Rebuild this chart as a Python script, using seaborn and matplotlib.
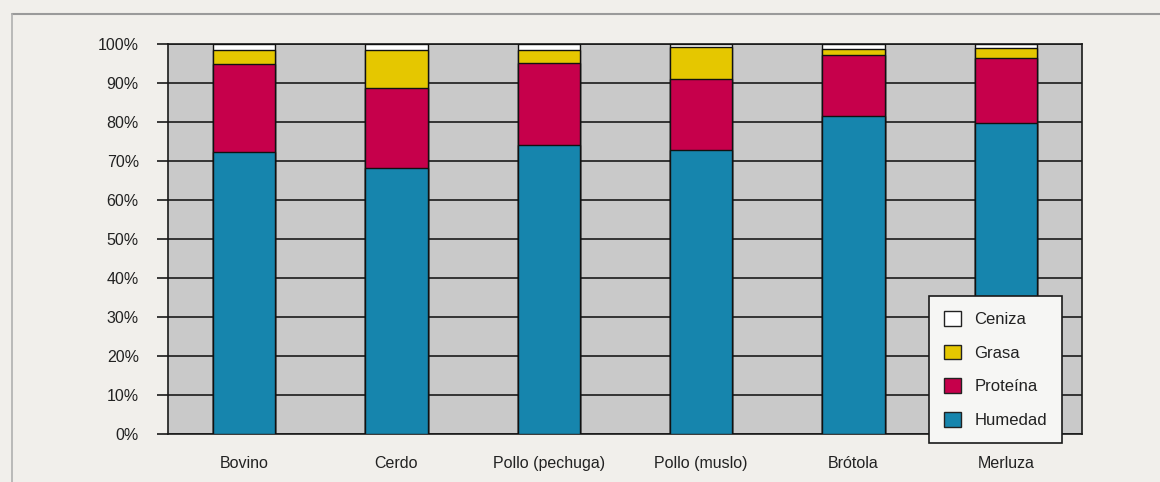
import matplotlib
matplotlib.use("Agg")
import matplotlib.pyplot as plt
from matplotlib.lines import Line2D
from matplotlib.patches import Patch
import numpy as np
import pandas as pd
import seaborn as sns

# Composición centesimal de carnes y pescados (% en peso)
categorias = ["Bovino", "Cerdo", "Pollo (pechuga)", "Pollo (muslo)", "Brótola", "Merluza"]
humedad = [72.3, 68.2, 74.2, 72.8, 81.6, 79.8]
proteina = [22.6, 20.6, 21.0, 18.2, 15.6, 16.6]
grasa = [3.5, 9.7, 3.3, 8.2, 1.6, 2.6]
ceniza = [1.6, 1.5, 1.5, 0.8, 1.2, 1.0]

componentes = ["Ceniza", "Grasa", "Proteína", "Humedad"]
colores = {"Humedad": "#1685ad", "Proteína": "#c6004b",
           "Grasa": "#e5c700", "Ceniza": "#ffffff"}

df = pd.DataFrame({"categoria": categorias, "Humedad": humedad,
                   "Proteína": proteina, "Grasa": grasa, "Ceniza": ceniza})
# Acumulados para apilar las barras (de abajo hacia arriba)
df["acum_Humedad"] = df["Humedad"]
df["acum_Proteína"] = df["acum_Humedad"] + df["Proteína"]
df["acum_Grasa"] = df["acum_Proteína"] + df["Grasa"]
df["acum_Ceniza"] = df["acum_Grasa"] + df["Ceniza"]

sns.set_theme(style="white")
plt.rcParams["font.family"] = ["Liberation Sans", "DejaVu Sans"]

fondo = "#f1efeb"
fig = plt.figure(figsize=(11.6, 4.82), dpi=100, facecolor=fondo)
ax = fig.add_axes([0.1448, 0.0996, 0.9328 - 0.1448, 0.9087 - 0.0996])
ax.set_facecolor("#c9c9c9")

# Barras apiladas: se dibuja primero el acumulado mayor
for comp in componentes:
    sns.barplot(data=df, x="categoria", y=f"acum_{comp}", color=colores[comp],
                width=0.41, edgecolor="#111111", linewidth=1.0,
                saturation=1, ax=ax, zorder=3)

ax.set_ylim(0, 100)
ax.set_yticks(np.arange(0, 101, 10))
ax.set_yticklabels([f"{v}%" for v in range(0, 101, 10)])
ax.yaxis.grid(True, color="#1a1a1a", linewidth=1.2)
ax.set_axisbelow(True)
ax.set_xlabel("")
ax.set_ylabel("")

for sp in ax.spines.values():
    sp.set_visible(True)
    sp.set_color("#1a1a1a")
    sp.set_linewidth(1.2)

ax.tick_params(axis="y", length=8, width=1.2, color="#1a1a1a", pad=13,
               labelsize=11.5, labelcolor="#222222", left=True)
ax.tick_params(axis="x", length=0, pad=16, labelsize=11.5, labelcolor="#222222")

# Leyenda
handles = [Patch(facecolor=colores[c], edgecolor="#222222", linewidth=1.0, label=c)
           for c in componentes]
leg = fig.legend(handles=handles, loc="lower right",
                 bbox_to_anchor=(0.9155, 0.0809), frameon=True, fancybox=False,
                 fontsize=12, handlelength=1.0, handleheight=1.0,
                 labelspacing=1.05, handletextpad=0.8, borderpad=0.9,
                 borderaxespad=0)
leg.get_frame().set_facecolor("#f6f6f4")
leg.get_frame().set_edgecolor("#1a1a1a")
leg.get_frame().set_linewidth(1.2)
leg.get_frame().set_alpha(1)
for t in leg.get_texts():
    t.set_color("#222222")

# Filetes del recuadro de la página
fig.add_artist(Line2D([0.0103, 1.0], [0.971, 0.971], transform=fig.transFigure,
                      color="#9a9a9a", linewidth=1.5))
fig.add_artist(Line2D([0.0103, 0.0103], [0.0, 0.971], transform=fig.transFigure,
                      color="#b0b0b0", linewidth=1.2))

fig.savefig("out.png", dpi=100, facecolor=fondo)
